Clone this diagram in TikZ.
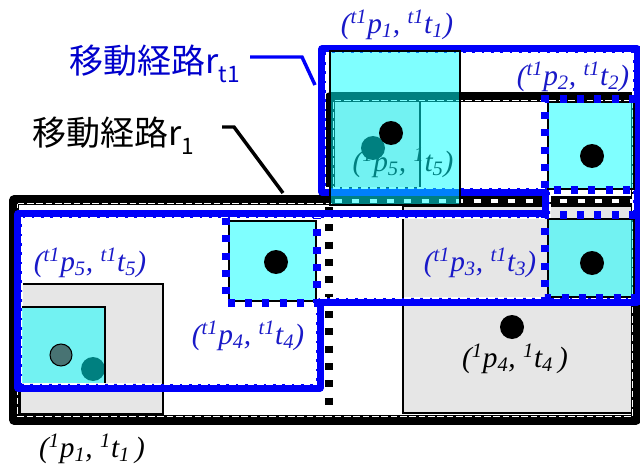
\documentclass[tikz,border=0pt]{standalone}
\usepackage{fontspec}
\setmainfont{Liberation Serif}
\newfontfamily\cjk{Noto Sans CJK JP}
\definecolor{lgrey}{RGB}{230,230,230}
\definecolor{tblue}{RGB}{0,0,250}
\definecolor{lblue}{RGB}{25,25,200}
\definecolor{cy}{RGB}{0,255,255}
\definecolor{slate}{RGB}{72,115,115}
\newcommand\plab[3]{(\textsuperscript{#1}p\textsubscript{#2}, \textsuperscript{#1}t\textsubscript{#2}#3)}
\begin{document}
\begin{tikzpicture}[x=0.75pt,y=-0.75pt,
  greybox/.style={fill=lgrey,draw=black,line width=1.1pt},
  r1line/.style={draw=black,line width=7.2pt,line join=round},
  r1inner/.style={draw=white,line width=1.1pt,dash pattern=on 5pt off 2pt},
  rtline/.style={draw=tblue,line width=5.6pt,line join=round},
  rtinner/.style={draw=white,line width=1pt,dash pattern=on 5pt off 2pt},
  sepv/.style={draw=black,line width=6pt,dash pattern=on 5.25pt off 7.75pt},
  sephb/.style={draw=black,line width=7pt},
  sephw/.style={draw=white,line width=3pt,dash pattern=on 5.25pt off 7.75pt},
  cbox/.style={fill=cy,fill opacity=0.5,draw=black,line width=0.9pt},
  bdots/.style={draw=tblue,line width=5.3pt,dash pattern=on 5.25pt off 7.75pt},
  pdot/.style={circle,fill=black,minimum size=18pt,inner sep=0pt},
  tlabel/.style={text=lblue,font=\fontsize{22}{24}\selectfont\itshape,inner sep=0pt},
  blabel/.style={text=black,font=\fontsize{22}{24}\selectfont\itshape,inner sep=0pt},
  jlabel/.style={font=\cjk\fontsize{25.5}{30}\selectfont,inner sep=0pt,anchor=base west},
  callout/.style={line width=2.6pt,line join=miter}
]
\useasboundingbox (0,0) rectangle (640,471);
\fill[white] (0,0) rectangle (640,471);

% grey areas of route r1
\draw[greybox] (20,284) rectangle (163,414);
\draw[greybox] (403,206) rectangle (633,413);
\draw[greybox] (333,100) rectangle (420,188);

% r1 points and label under the cyan boxes
\node[blabel] (K5) at (403,163) {\plab{1}{5}{}};
\node[pdot] (e5) at (373,148) {};
\node[pdot] (e1) at (93,369) {};
\node[pdot] (e4) at (512,327) {};

% route r1
\draw[r1line] (14,200) -- (330,200) -- (330,97) -- (636,97) -- (636,420) -- (14,420) -- cycle;
\draw[r1inner] (17.5,203.5) -- (333.5,203.5) -- (333.5,100.5) -- (632.5,100.5) -- (632.5,416.5) -- (17.5,416.5) -- cycle;
\draw[sephb] (333,201) -- (633,201);
\draw[sephw] (335,201) -- (633,201);
\draw[sepv] (329,207) -- (329,416);

% route rt1
\draw[rtline] (322,49) -- (637,49) -- (637,302) -- (320,302) -- (320,388) -- (18,388) -- (18,214) -- (546,214) -- (546,192) -- (322,192) -- cycle;
\draw[rtinner] (325.5,53) -- (633,53) -- (633,298) -- (316,298) -- (316,384) -- (22,384) -- (22,218) -- (550,218) -- (550,188) -- (325.5,188) -- cycle;

% cyan areas of route rt1
\draw[cbox] (330,51) rectangle (460,205);
\draw[cbox] (548,102) rectangle (634,189);
\draw[cbox] (548,219) rectangle (634,297);
\draw[cbox] (229,221) rectangle (316,301);
\fill[cy,fill opacity=0.5] (22,307) rectangle (105,383);
\draw[line width=0.9pt] (22,307) -- (105,307) -- (105,383);

% dotted borders
\draw[bdots] (636,99) -- (545,99) -- (545,190) -- (636,190);
\draw[bdots] (636,215) -- (545,215) -- (545,298) -- (636,298);
\draw[bdots] (226,218) -- (226,303) -- (317,303) -- (317,218);

% rt1 points
\node[pdot] (d1) at (391,133) {};
\node[pdot] (d2) at (592,156) {};
\node[pdot] (d3) at (592,263) {};
\node[pdot] (d4) at (276,262) {};
\node[pdot,fill=slate,draw=black,line width=0.8pt,minimum size=16.5pt] (d5) at (61,355) {};

% labels
\node[tlabel] (L1) at (397,25) {\plab{t1}{1}{}};
\node[tlabel] (L2) at (573,77) {\plab{t1}{2}{}};
\node[tlabel] (L3) at (480,263) {\plab{t1}{3}{}};
\node[tlabel] (L4) at (248,336) {\plab{t1}{4}{}};
\node[tlabel] (L5) at (90,263) {\plab{t1}{5}{}};
\node[blabel] (K1) at (92,449) {\plab{1}{1}{\,}};
\node[blabel] (K4) at (515,359) {\plab{1}{4}{\,}};

% route names and callouts
\node[jlabel,text=blue!80!black] (RT) at (69,73) {移動経路r\raisebox{-0.28em}{\fontsize{17}{19}\selectfont t1}};
\node[jlabel,text=black] (R1) at (32,145) {移動経路r\raisebox{-0.28em}{\fontsize{17}{19}\selectfont 1}};
\coordinate (b0) at (250,57);
\coordinate (b1) at (302,57);
\coordinate (b2) at (315,85);
\coordinate (k0) at (222,127);
\coordinate (k1) at (234,127);
\coordinate (k2) at (283,193);
\draw[callout,draw=tblue] (b0) -- (b1) -- (b2);
\draw[callout,draw=black] (k0) -- (k1) -- (k2);
\end{tikzpicture}
\end{document}
